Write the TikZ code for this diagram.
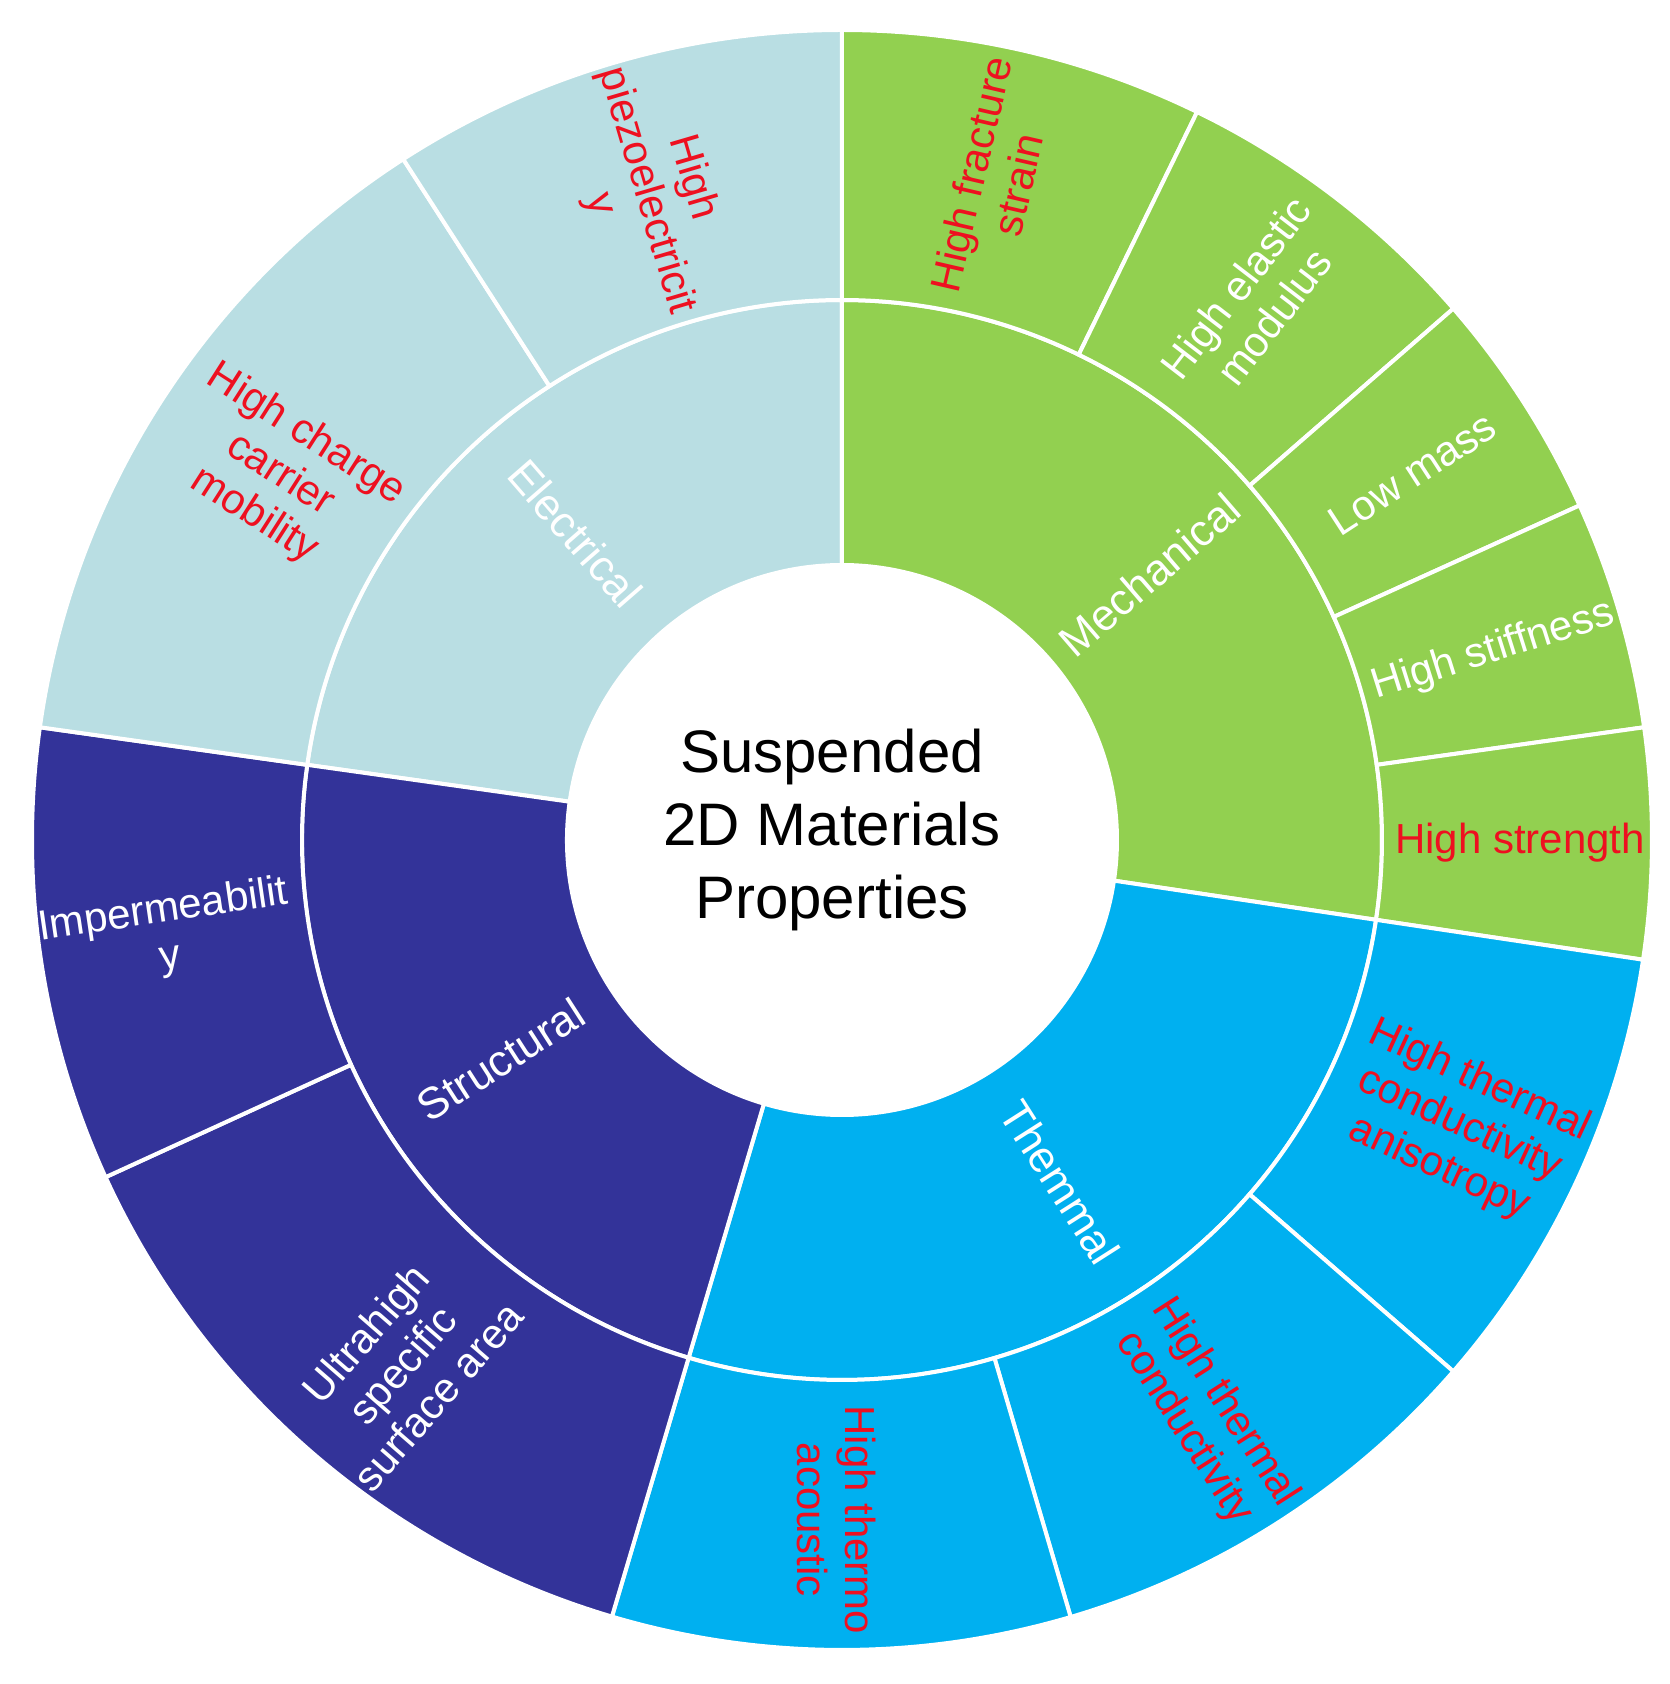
\documentclass[tikz,border=0pt]{standalone}
\usepackage{fontspec}
\setmainfont{Liberation Sans}
\definecolor{elecblue}{RGB}{185,222,227}
\definecolor{mechgreen}{RGB}{146,208,80}
\definecolor{thermcyan}{RGB}{0,176,240}
\definecolor{structblue}{RGB}{51,51,153}
\definecolor{lblred}{RGB}{238,16,32}
\newcommand{\sbsector}[5]{%
  \filldraw[fill=#5, draw=white, line width=4pt, line join=round]
    (#3:#1pt) arc[start angle=#3, end angle=#4, radius=#1pt]
    -- (#4:#2pt) arc[start angle=#4, end angle=#3, radius=#2pt] -- cycle;}
\tikzset{
  outerlbl/.style={font=\fontsize{42}{48}\selectfont, align=center, inner sep=0pt},
  innerlbl/.style={font=\fontsize{44}{50}\selectfont, align=center, inner sep=0pt, text=white},
  redtxt/.style={text=lblred},
  whitetxt/.style={text=white}
}
\begin{document}
\begin{tikzpicture}
\useasboundingbox (-842pt,-844pt) rectangle (828pt,840pt);
% inner ring
\sbsector{275}{540}{90}{172}{elecblue}
\sbsector{275}{540}{-8.5}{90}{mechgreen}
\sbsector{275}{540}{-106.5}{-8.5}{thermcyan}
\sbsector{275}{540}{172}{253.5}{structblue}
% outer ring: Mechanical
\sbsector{540}{810}{64}{90}{mechgreen}
\sbsector{540}{810}{41}{64}{mechgreen}
\sbsector{540}{810}{24.4}{41}{mechgreen}
\sbsector{540}{810}{8}{24.4}{mechgreen}
\sbsector{540}{810}{-8.5}{8}{mechgreen}
% Thermal
\sbsector{540}{810}{-41}{-8.5}{thermcyan}
\sbsector{540}{810}{-73.6}{-41}{thermcyan}
\sbsector{540}{810}{-106.5}{-73.6}{thermcyan}
% Structural
\sbsector{540}{810}{204.6}{253.5}{structblue}
\sbsector{540}{810}{172}{204.6}{structblue}
% Electrical
\sbsector{540}{810}{122.8}{172}{elecblue}
\sbsector{540}{810}{90}{122.8}{elecblue}

% center
\node[font=\fontsize{60}{73}\selectfont, align=center, inner sep=0pt] (center) at (-10pt,10pt) {Suspended\\2D Materials\\Properties};

% inner labels
\node[innerlbl, rotate=-49] (electrical) at (131:406pt) {Electrical};
\node[innerlbl, rotate=40.75] (mechanical) at (40.75:406pt) {Mechanical};
\node[innerlbl, rotate=-57.5] (thermal) at (-57.5:406pt) {Themmal};
\node[innerlbl, rotate=32.75] (structural) at (212.75:406pt) {Structural};

% outer labels
\node[outerlbl, redtxt, rotate=77] (fracture) at (77:678pt) {High fracture\\strain};
\node[outerlbl, whitetxt, rotate=52.5] (elastic) at (52.5:678pt) {High elastic\\modulus};
\node[outerlbl, whitetxt, rotate=33] (lowmass) at (32.7:678pt) {Low mass};
\node[outerlbl, whitetxt, rotate=17.5] (stiffness) at (16.2:678pt) {High stiffness};
\node[outerlbl, redtxt, rotate=0] (strength) at (-0.25:678pt) {High strength};
\node[outerlbl, redtxt, rotate=-24.75] (anisotropy) at (-24.75:680pt) {High thermal\\conductivity\\anisotropy};
\node[outerlbl, redtxt, rotate=-57.3] (conductivity) at (-57.8:680pt) {High thermal\\conductivity};
\node[outerlbl, redtxt, rotate=-90] (acoustic) at (-90.5:680pt) {High thermo\\acoustic};
\node[outerlbl, whitetxt, rotate=49] (surface) at (230:685pt) {Ultrahigh\\specific\\surface area};
\node[outerlbl, whitetxt, rotate=8.3] (imperm) at (188:682pt) {Impermeabilit\\y};
\node[outerlbl, redtxt, rotate=-32.6] (mobility) at (147:670pt) {High charge\\carrier\\mobility};
\node[outerlbl, redtxt, rotate=-73.6] (piezo) at (106.8:678pt) {High\\piezoelectricit\\y};
\end{tikzpicture}
\end{document}
